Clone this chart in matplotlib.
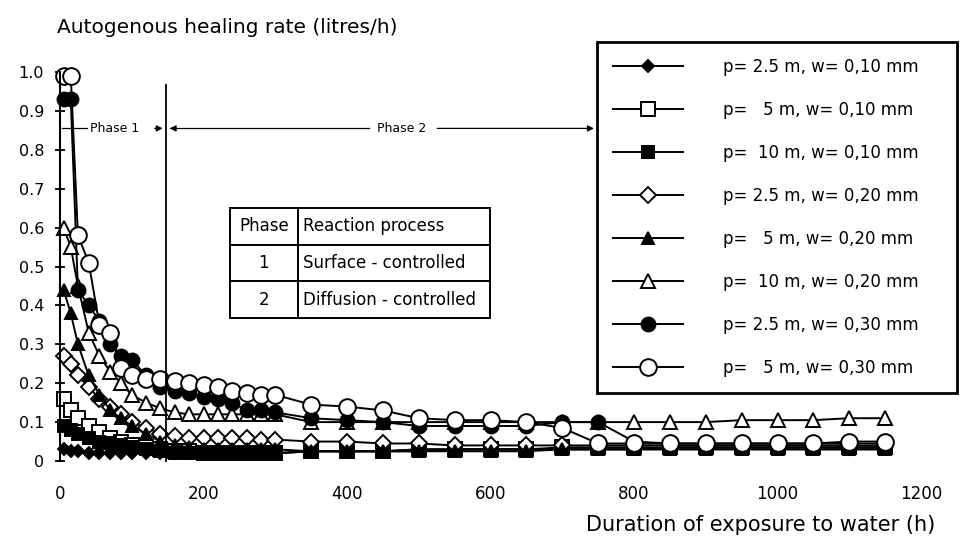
import matplotlib
matplotlib.use("Agg")
import matplotlib.pyplot as plt

plt.rcParams["font.family"] = ["DejaVu Sans"]

# exposure times (h)
hours = [5, 15, 25, 40, 55, 70, 85, 100, 120, 140,
         160, 180, 200, 220, 240, 260, 280, 300,
         350, 400, 450, 500, 550, 600, 650, 700, 750,
         800, 850, 900, 950, 1000, 1050, 1100, 1150]

# healing rate (litres/h) per crack configuration
rate_p25_w010 = [0.03, 0.025, 0.025, 0.02, 0.02, 0.02, 0.02, 0.02, 0.02, 0.02,
                 0.02, 0.02, 0.02, 0.02, 0.02, 0.02, 0.02, 0.02,
                 0.025, 0.025, 0.025, 0.025, 0.03, 0.03, 0.03, 0.03, 0.03,
                 0.03, 0.03, 0.03, 0.03, 0.03, 0.03, 0.03, 0.03]
rate_p5_w010 = [0.16, 0.13, 0.11, 0.09, 0.075, 0.06, 0.05, 0.04, 0.035, 0.03,
                0.025, 0.025, 0.02, 0.02, 0.02, 0.02, 0.02, 0.02,
                0.025, 0.025, 0.025, 0.03, 0.03, 0.03, 0.03, 0.035, 0.035,
                0.035, 0.035, 0.035, 0.035, 0.035, 0.035, 0.035, 0.035]
rate_p10_w010 = [0.09, 0.08, 0.07, 0.06, 0.05, 0.045, 0.04, 0.035, 0.03, 0.025,
                 0.02, 0.02, 0.02, 0.02, 0.02, 0.02, 0.02, 0.02,
                 0.025, 0.025, 0.025, 0.03, 0.03, 0.03, 0.03, 0.03, 0.03,
                 0.03, 0.03, 0.03, 0.03, 0.03, 0.03, 0.03, 0.03]
rate_p25_w020 = [0.27, 0.25, 0.22, 0.19, 0.16, 0.14, 0.12, 0.10, 0.085, 0.07,
                 0.065, 0.06, 0.06, 0.06, 0.06, 0.06, 0.055, 0.055,
                 0.05, 0.05, 0.045, 0.045, 0.04, 0.04, 0.04, 0.04, 0.04,
                 0.04, 0.04, 0.04, 0.04, 0.04, 0.04, 0.04, 0.04]
rate_p5_w020 = [0.44, 0.38, 0.30, 0.22, 0.17, 0.13, 0.11, 0.09, 0.07, 0.05,
                0.04, 0.035, 0.03, 0.03, 0.03, 0.03, 0.03, 0.03,
                0.025, 0.025, 0.025, 0.025, 0.025, 0.025, 0.025, 0.03, 0.03,
                0.03, 0.035, 0.035, 0.035, 0.035, 0.035, 0.035, 0.035]
rate_p10_w020 = [0.60, 0.55, 0.45, 0.33, 0.27, 0.23, 0.20, 0.17, 0.15, 0.135,
                 0.125, 0.12, 0.12, 0.12, 0.12, 0.12, 0.12, 0.12,
                 0.10, 0.10, 0.10, 0.10, 0.10, 0.10, 0.10, 0.10, 0.10,
                 0.10, 0.10, 0.10, 0.105, 0.105, 0.105, 0.11, 0.11]
rate_p25_w030 = [0.93, 0.93, 0.44, 0.40, 0.36, 0.30, 0.27, 0.26, 0.22, 0.19,
                 0.18, 0.175, 0.165, 0.16, 0.15, 0.13, 0.13, 0.125,
                 0.11, 0.105, 0.10, 0.09, 0.09, 0.09, 0.09, 0.10, 0.10,
                 0.05, 0.045, 0.045, 0.045, 0.045, 0.045, 0.045, 0.045]
rate_p5_w030 = [0.99, 0.99, 0.58, 0.51, 0.35, 0.33, 0.24, 0.22, 0.21, 0.21,
                0.205, 0.20, 0.195, 0.19, 0.18, 0.175, 0.17, 0.17,
                0.145, 0.14, 0.13, 0.11, 0.105, 0.105, 0.10, 0.085, 0.045,
                0.045, 0.045, 0.045, 0.045, 0.045, 0.045, 0.05, 0.05]

labels = ["p= 2.5 m, w= 0,10 mm",
          "p=   5 m, w= 0,10 mm",
          "p=  10 m, w= 0,10 mm",
          "p= 2.5 m, w= 0,20 mm",
          "p=   5 m, w= 0,20 mm",
          "p=  10 m, w= 0,20 mm",
          "p= 2.5 m, w= 0,30 mm",
          "p=   5 m, w= 0,30 mm"]

phase_end = 148
table_rows = [["Phase", "Reaction process"],
              ["1", "Surface - controlled"],
              ["2", "Diffusion - controlled"]]

series = [rate_p25_w010, rate_p5_w010, rate_p10_w010, rate_p25_w020,
          rate_p5_w020, rate_p10_w020, rate_p25_w030, rate_p5_w030]
styles = [("D", "black", 6), ("s", "white", 10), ("s", "black", 9),
          ("D", "white", 8), ("^", "black", 9), ("^", "white", 10),
          ("o", "black", 10), ("o", "white", 12)]

fig = plt.figure(figsize=(9.61, 5.40), dpi=100)
W, H = 961, 540
ax = fig.add_axes([60 / W, 1 - 461 / H, 861 / W, 389 / H])

handles = []
for vals, (mk, fc, ms), lab in zip(series, styles, labels):
    h, = ax.plot(hours, vals, color="black", lw=1.4, marker=mk,
                 markerfacecolor=fc, markeredgecolor="black",
                 markeredgewidth=1.4, markersize=ms, label=lab, clip_on=False)
    handles.append(h)

ax.set_xlim(0, 1200)
ax.set_ylim(0, 1.0)
ax.set_xticks(range(0, 1201, 200))
ax.set_yticks([i / 10 for i in range(11)])
ax.set_yticklabels(["0"] + [f"{i / 10:.1f}" for i in range(1, 11)])
ax.tick_params(axis="y", direction="inout", length=7, width=1.3, labelsize=11.5, pad=8)
ax.tick_params(axis="x", length=0, labelsize=12, pad=17)
for side in ["top", "right", "bottom"]:
    ax.spines[side].set_visible(False)
ax.spines["left"].set_linewidth(1.5)

# phase boundary and arrows
ya = 0.855
arrow = dict(arrowstyle="-|>", color="black", lw=0.9, mutation_scale=9)
ax.plot([phase_end, phase_end], [0, 0.967], color="black", lw=1.3, clip_on=False)
ax.plot([3, 38], [ya, ya], color="black", lw=0.9)
ax.text(42, ya, "Phase 1", fontsize=9, va="center", ha="left")
ax.annotate("", xy=(phase_end - 1, ya), xytext=(128, ya), arrowprops=arrow)
ax.plot([phase_end + 8, 430], [ya, ya], color="black", lw=0.9)
ax.annotate("", xy=(phase_end + 1, ya), xytext=(phase_end + 12, ya), arrowprops=arrow)
ax.text(476, ya, "Phase 2", fontsize=9, va="center", ha="center")
ax.annotate("", xy=(748, ya), xytext=(522, ya), arrowprops=arrow,
            annotation_clip=False)

# reaction process table
tbl = ax.table(cellText=table_rows, colWidths=[0.26, 0.74],
               bbox=[(230 - 60) / 861, (461 - 318) / 389, 260 / 861, 110 / 389])
tbl.auto_set_font_size(False)
for (r, c), cell in tbl.get_celld().items():
    cell.set_linewidth(1.4)
    cell.set_edgecolor("black")
    cell.get_text().set_fontsize(12)
    if c == 0:
        cell.get_text().set_ha("center")
        cell._loc = "center"
    else:
        cell._loc = "left"
        cell.get_text().set_ha("left")
    cell.PAD = 0.03

ax.text(-3 / 861 * 1200, 1.115, "Autogenous healing rate (litres/h)",
        transform=ax.get_xaxis_transform(), fontsize=14.5, ha="left", va="center")
fig.text(935 / W, 1 - 525 / H, "Duration of exposure to water (h)",
         fontsize=15, ha="right", va="center")

leg = fig.legend(handles=handles, loc="upper left",
                 bbox_to_anchor=(597 / W, 1 - 392 / H, 360 / W, 350 / H),
                 bbox_transform=fig.transFigure,
                 mode="expand", fontsize=12, frameon=True, fancybox=False,
                 framealpha=1, handlelength=4.2, handletextpad=2.4,
                 labelspacing=1.5, borderpad=0.95, borderaxespad=0)
leg.get_frame().set_edgecolor("black")
leg.get_frame().set_linewidth(2)

fig.savefig("out.png", dpi=100)
